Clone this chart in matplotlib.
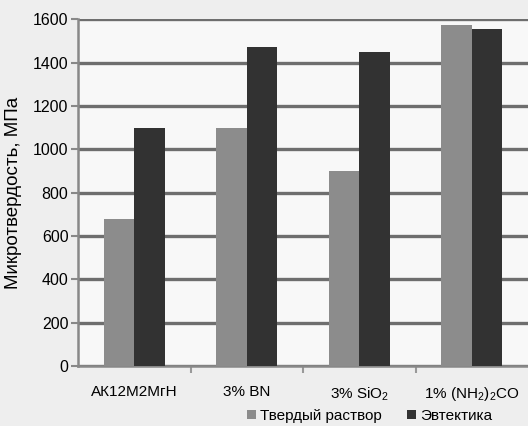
import matplotlib.pyplot as plt
import numpy as np

# Данные
categories = ['АК12М2МгН', '3% BN', '3% SiO$_2$', '1% (NH$_2$)$_2$CO']
solid_solution = [680, 1100, 900, 1575]
eutectic = [1100, 1470, 1450, 1555]
yticks = [0, 200, 400, 600, 800, 1000, 1200, 1400, 1600]

plt.rcParams['font.family'] = ['Liberation Sans', 'DejaVu Sans']
plt.rcParams['mathtext.fontset'] = 'custom'
plt.rcParams['mathtext.rm'] = 'Liberation Sans'
plt.rcParams['mathtext.default'] = 'rm'

fig = plt.figure(figsize=(5.28, 4.26), dpi=100, facecolor='#eeeeee')
ax = fig.add_axes([0.148, 0.141, 0.852, 0.814])
ax.set_facecolor('#f8f8f8')

x = np.arange(len(categories))
w = 0.27

ax.bar(x - w / 2, solid_solution, w, color='#8c8c8c', label='Твердый раствор', zorder=3)
ax.bar(x + w / 2, eutectic, w, color='#323232', label='Эвтектика', zorder=3)

ax.set_xlim(-0.5, 3.5)
ax.set_ylim(0, 1600)
ax.set_yticks(yticks)
ax.tick_params(axis='y', labelsize=11.5, length=5, width=1.5, color='#888888', pad=2)

# сетка по оси Y
ax.grid(True, axis='y', color='#6e6e6e', linewidth=2.4, alpha=1.0, zorder=2)

ax.set_xticks(x)
ax.set_xticklabels(categories, fontsize=11)
ax.set_xticks(np.arange(0.5, 3.5, 1), minor=True)
ax.tick_params(axis='x', which='major', length=0, pad=14)
ax.tick_params(axis='x', which='minor', length=5, width=1.5, color='#999999')

for s in ['top', 'right']:
    ax.spines[s].set_visible(False)
for s in ['left', 'bottom']:
    ax.spines[s].set_color('#888888')
    ax.spines[s].set_linewidth(1.8)

ax.set_ylabel('Микротвердость, МПа', fontsize=13.5, labelpad=8)

fig.legend(loc='lower center', bbox_to_anchor=(0.70, -0.025), ncol=2, frameon=False,
           fontsize=11, handlelength=0.6, handleheight=0.6, handletextpad=0.3,
           columnspacing=1.6)

fig.savefig('out.png', dpi=100, facecolor='#eeeeee')
